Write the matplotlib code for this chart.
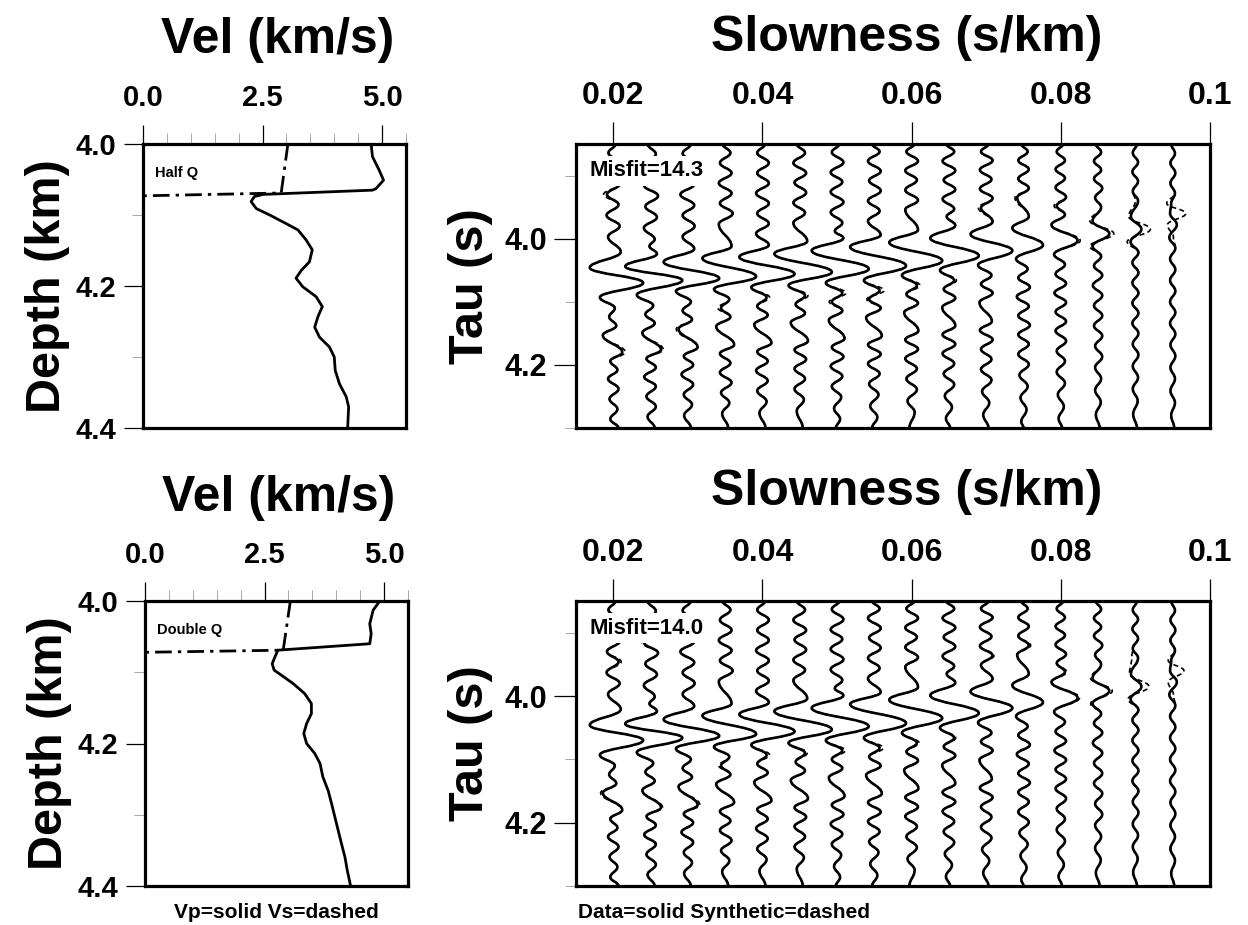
import matplotlib
matplotlib.use("Agg")
import matplotlib.pyplot as plt
from matplotlib.ticker import FixedLocator
from matplotlib.path import Path
from matplotlib.patches import PathPatch

plt.rcParams['font.family'] = ['Liberation Sans', 'DejaVu Sans']
plt.rcParams['font.weight'] = 'bold'

# ---- velocity models: depth (km) and velocity (km/s) ----
vp_half_depth = [4.000, 4.018, 4.037, 4.051, 4.063, 4.065, 4.071, 4.074, 4.081, 4.091, 4.100,
                 4.112, 4.121, 4.135, 4.149, 4.166, 4.178, 4.189, 4.201, 4.215, 4.229, 4.243,
                 4.258, 4.272, 4.286, 4.300, 4.319, 4.338, 4.356, 4.370, 4.400]
vp_half_vel = [4.77, 4.80, 4.94, 5.03, 4.87, 4.80, 2.51, 2.33, 2.26, 2.37, 2.65,
               2.99, 3.24, 3.41, 3.54, 3.48, 3.31, 3.20, 3.34, 3.62, 3.75, 3.66,
               3.59, 3.69, 3.90, 4.00, 4.02, 4.11, 4.25, 4.30, 4.28]
vs_half_depth = [4.000, 4.069, 4.073, 4.400]
vs_half_vel = [3.03, 2.89, 0.0, 0.0]

vp_double_depth = [4.000, 4.013, 4.032, 4.046, 4.060, 4.069, 4.078, 4.088, 4.097, 4.104,
                   4.116, 4.130, 4.144, 4.158, 4.172, 4.186, 4.200, 4.214, 4.228, 4.247,
                   4.266, 4.284, 4.303, 4.322, 4.341, 4.359, 4.378, 4.400]
vp_double_vel = [4.91, 4.77, 4.70, 4.73, 4.70, 2.78, 2.72, 2.66, 2.70, 2.85,
                 3.10, 3.34, 3.48, 3.48, 3.38, 3.32, 3.38, 3.55, 3.66, 3.72,
                 3.83, 3.90, 3.97, 4.04, 4.11, 4.18, 4.23, 4.30]
vs_double_depth = [4.000, 4.069, 4.072, 4.400]
vs_double_vel = [3.04, 2.89, 0.0, 0.0]

# ---- tau-p traces: slowness (s/km); wiggle turning points (tau s, amplitude in trace spacings) ----
slowness = [0.020, 0.025, 0.030, 0.035, 0.040, 0.045, 0.050, 0.055,
            0.060, 0.065, 0.070, 0.075, 0.080, 0.085, 0.090, 0.095]
trace_gap = 0.005

data_traces = [
    [(3.850, 0.06), (3.864, -0.13), (3.880, 0.15), (3.897, -0.14), (3.913, 0.18), (3.930, -0.17),
     (3.946, 0.14), (3.963, -0.18), (3.980, 0.17), (3.997, -0.14), (4.021, 0.20), (4.046, -0.63),
     (4.070, 0.80), (4.093, -0.36), (4.110, 0.04), (4.124, -0.11), (4.138, 0.08), (4.153, -0.28),
     (4.180, 0.24), (4.194, -0.08), (4.208, 0.11), (4.222, -0.14), (4.238, 0.14), (4.254, -0.10),
     (4.270, 0.11), (4.286, -0.08), (4.300, 0.14)],
    [(3.850, -0.08), (3.866, 0.14), (3.882, -0.11), (3.899, 0.17), (3.916, -0.17), (3.932, 0.20),
     (3.949, -0.14), (3.966, 0.17), (3.983, -0.18), (4.001, 0.11), (4.012, -0.03), (4.024, 0.17),
     (4.044, -0.68), (4.066, 0.85), (4.089, -0.37), (4.106, 0.07), (4.120, -0.14), (4.134, 0.11),
     (4.149, -0.22), (4.176, 0.28), (4.190, -0.11), (4.204, 0.14), (4.219, -0.17), (4.234, 0.14),
     (4.250, -0.11), (4.266, 0.14), (4.282, -0.08), (4.300, 0.11)],
    [(3.850, 0.08), (3.865, -0.14), (3.881, 0.17), (3.898, -0.14), (3.914, 0.17), (3.930, -0.20),
     (3.947, 0.17), (3.963, -0.14), (3.980, 0.18), (3.997, -0.14), (4.016, 0.17), (4.037, -0.65),
     (4.063, 0.84), (4.083, -0.32), (4.100, 0.08), (4.114, -0.14), (4.128, 0.11), (4.143, -0.25),
     (4.172, 0.26), (4.186, -0.11), (4.200, 0.14), (4.215, -0.17), (4.231, 0.14), (4.247, -0.11),
     (4.263, 0.11), (4.280, -0.10), (4.300, 0.08)],
    [(3.850, -0.07), (3.864, 0.14), (3.880, -0.14), (3.896, 0.17), (3.912, -0.17), (3.928, 0.17),
     (3.944, -0.14), (3.960, 0.20), (3.977, -0.17), (4.012, 0.17), (4.031, -0.61), (4.060, 0.83),
     (4.080, -0.30), (4.096, 0.11), (4.110, -0.11), (4.124, 0.14), (4.139, -0.24), (4.168, 0.24),
     (4.182, -0.14), (4.197, 0.14), (4.212, -0.14), (4.228, 0.17), (4.244, -0.11), (4.260, 0.11),
     (4.277, -0.08), (4.300, 0.08)],
    [(3.850, 0.07), (3.864, -0.14), (3.880, 0.17), (3.896, -0.14), (3.912, 0.17), (3.928, -0.17),
     (3.944, 0.17), (3.960, -0.14), (3.976, 0.17), (3.992, -0.17), (4.010, 0.17), (4.029, -0.62),
     (4.056, 0.86), (4.077, -0.30), (4.093, 0.11), (4.107, -0.14), (4.121, 0.14), (4.136, -0.22),
     (4.165, 0.24), (4.179, -0.14), (4.194, 0.14), (4.209, -0.17), (4.225, 0.14), (4.241, -0.14),
     (4.258, 0.11), (4.276, -0.08), (4.300, 0.08)],
    [(3.850, -0.08), (3.864, 0.14), (3.880, -0.17), (3.896, 0.17), (3.911, -0.14), (3.927, 0.17),
     (3.943, -0.17), (3.959, 0.14), (3.975, -0.17), (4.004, 0.20), (4.024, -0.68), (4.053, 0.86),
     (4.074, -0.30), (4.090, 0.14), (4.104, -0.11), (4.118, 0.14), (4.133, -0.24), (4.162, 0.22),
     (4.176, -0.14), (4.191, 0.17), (4.206, -0.14), (4.222, 0.14), (4.238, -0.14), (4.255, 0.11),
     (4.273, -0.08), (4.300, 0.08)],
    [(3.850, 0.06), (3.863, -0.14), (3.879, 0.17), (3.895, -0.17), (3.910, 0.14), (3.926, -0.17),
     (3.942, 0.17), (3.958, -0.17), (3.975, 0.14), (3.988, -0.06), (3.999, 0.17), (4.019, -0.68),
     (4.048, 0.85), (4.070, -0.30), (4.086, 0.14), (4.100, -0.14), (4.114, 0.14), (4.129, -0.22),
     (4.158, 0.20), (4.172, -0.14), (4.187, 0.17), (4.202, -0.17), (4.218, 0.14), (4.234, -0.14),
     (4.251, 0.11), (4.269, -0.08), (4.286, 0.08), (4.300, -0.03)],
    [(3.850, -0.06), (3.862, 0.14), (3.877, -0.17), (3.893, 0.17), (3.908, -0.14), (3.924, 0.17),
     (3.940, -0.17), (3.956, 0.14), (3.972, -0.17), (3.994, 0.17), (4.013, -0.65), (4.043, 0.85),
     (4.066, -0.28), (4.082, 0.14), (4.096, -0.14), (4.110, 0.17), (4.125, -0.22), (4.154, 0.20),
     (4.168, -0.17), (4.183, 0.17), (4.198, -0.17), (4.214, 0.14), (4.230, -0.14), (4.247, 0.11),
     (4.265, -0.11), (4.283, 0.08), (4.300, -0.06)],
    [(3.850, 0.07), (3.862, -0.14), (3.877, 0.17), (3.892, -0.17), (3.907, 0.14), (3.923, -0.17),
     (3.939, 0.17), (3.954, -0.17), (3.986, 0.17), (4.006, -0.60), (4.035, 0.82), (4.058, -0.26),
     (4.074, 0.14), (4.088, -0.14), (4.102, 0.17), (4.117, -0.20), (4.146, 0.18), (4.160, -0.17),
     (4.175, 0.17), (4.190, -0.17), (4.206, 0.14), (4.222, -0.14), (4.239, 0.14), (4.257, -0.11),
     (4.275, 0.08), (4.300, -0.06)],
    [(3.850, -0.07), (3.862, 0.14), (3.877, -0.17), (3.892, 0.17), (3.907, -0.14), (3.922, 0.17),
     (3.937, -0.17), (3.953, 0.14), (3.965, -0.06), (3.979, 0.17), (3.999, -0.50), (4.027, 0.80),
     (4.050, -0.24), (4.066, 0.14), (4.080, -0.14), (4.094, 0.17), (4.109, -0.18), (4.138, 0.17),
     (4.152, -0.17), (4.167, 0.17), (4.182, -0.17), (4.198, 0.14), (4.214, -0.14), (4.231, 0.14),
     (4.249, -0.11), (4.267, 0.08), (4.285, -0.08), (4.300, 0.03)],
    [(3.850, 0.06), (3.862, -0.14), (3.876, 0.17), (3.891, -0.17), (3.906, 0.14), (3.921, -0.17),
     (3.936, 0.17), (3.951, -0.14), (3.973, 0.17), (3.993, -0.42), (4.019, 0.70), (4.042, -0.22),
     (4.058, 0.14), (4.072, -0.14), (4.086, 0.17), (4.101, -0.18), (4.131, 0.15), (4.145, -0.17),
     (4.160, 0.17), (4.175, -0.14), (4.191, 0.14), (4.207, -0.14), (4.224, 0.14), (4.242, -0.11),
     (4.260, 0.08), (4.279, -0.08), (4.300, 0.06)],
    [(3.850, -0.06), (3.862, 0.11), (3.876, -0.14), (3.890, 0.14), (3.905, -0.14), (3.920, 0.14),
     (3.935, -0.17), (3.965, 0.14), (3.983, -0.30), (4.010, 0.52), (4.032, -0.20), (4.048, 0.11),
     (4.062, -0.14), (4.077, 0.17), (4.092, -0.18), (4.107, 0.14), (4.122, -0.14), (4.137, 0.17),
     (4.152, -0.14), (4.167, 0.14), (4.183, -0.14), (4.199, 0.14), (4.216, -0.11), (4.234, 0.11),
     (4.252, -0.08), (4.271, 0.08), (4.290, -0.06), (4.300, 0.00)],
    [(3.850, 0.06), (3.862, -0.11), (3.876, 0.11), (3.890, -0.14), (3.904, 0.11), (3.919, -0.14),
     (3.934, 0.14), (3.948, -0.11), (3.962, 0.11), (3.978, -0.25), (4.003, 0.45), (4.025, -0.18),
     (4.041, 0.11), (4.056, -0.14), (4.071, 0.14), (4.086, -0.17), (4.101, 0.14), (4.116, -0.14),
     (4.131, 0.14), (4.146, -0.14), (4.162, 0.14), (4.178, -0.11), (4.194, 0.11), (4.211, -0.11),
     (4.229, 0.11), (4.247, -0.08), (4.266, 0.08), (4.285, -0.06), (4.300, 0.03)],
    [(3.850, -0.06), (3.863, 0.08), (3.877, -0.11), (3.891, 0.08), (3.905, -0.11), (3.920, 0.11),
     (3.935, -0.08), (3.950, 0.08), (3.972, -0.15), (3.992, 0.30), (4.012, -0.15), (4.028, 0.08),
     (4.043, -0.11), (4.058, 0.11), (4.074, -0.14), (4.090, 0.11), (4.106, -0.11), (4.122, 0.11),
     (4.138, -0.11), (4.154, 0.11), (4.170, -0.08), (4.187, 0.11), (4.204, -0.08), (4.222, 0.08),
     (4.240, -0.08), (4.259, 0.07), (4.279, -0.06), (4.300, 0.04)],
    [(3.850, 0.04), (3.864, -0.07), (3.879, 0.07), (3.894, -0.08), (3.909, 0.07), (3.925, -0.07),
     (3.940, 0.07), (3.965, -0.12), (3.985, 0.16), (4.005, -0.13), (4.022, 0.08), (4.038, -0.08),
     (4.054, 0.08), (4.070, -0.08), (4.086, 0.08), (4.102, -0.08), (4.118, 0.08), (4.134, -0.08),
     (4.150, 0.08), (4.167, -0.07), (4.184, 0.08), (4.202, -0.07), (4.220, 0.07), (4.238, -0.07),
     (4.257, 0.06), (4.278, -0.06), (4.300, 0.04)],
    [(3.850, -0.04), (3.865, 0.06), (3.880, -0.06), (3.896, 0.07), (3.912, -0.06), (3.928, 0.06),
     (3.944, -0.04), (3.960, -0.07), (3.978, 0.11), (3.998, -0.09), (4.015, 0.07), (4.032, -0.07),
     (4.049, 0.07), (4.066, -0.07), (4.083, 0.07), (4.100, -0.07), (4.117, 0.07), (4.134, -0.07),
     (4.151, 0.07), (4.168, -0.06), (4.186, 0.07), (4.204, -0.06), (4.222, 0.06), (4.241, -0.06),
     (4.260, 0.06), (4.280, -0.04), (4.300, 0.04)],
]

# synthetics follow the data except at these turning points: (trace, tau, amplitude)
synth_half_edits = [
    (0, 3.930, -0.26), (0, 4.180, 0.32), (1, 3.899, 0.24), (1, 4.176, 0.34),
    (2, 4.143, -0.31), (3, 4.110, -0.19), (4, 4.093, 0.19), (5, 4.090, 0.22),
    (6, 4.086, 0.24), (6, 4.100, -0.21), (7, 4.082, 0.26), (7, 4.096, -0.20),
    (8, 4.074, 0.22), (9, 4.066, 0.20), (10, 3.951, -0.21), (11, 3.935, -0.23),
    (12, 4.003, 0.52), (12, 3.948, -0.18),
    (13, 3.972, -0.22), (13, 3.992, 0.42), (13, 4.012, -0.22),
    (14, 3.940, 0.00), (14, 3.965, -0.18), (14, 3.985, 0.40), (14, 4.005, -0.22),
    (15, 3.944, -0.16), (15, 3.960, 0.35), (15, 3.978, -0.14), (15, 3.998, 0.02),
]
synth_double_edits = [
    (0, 3.946, 0.21), (0, 4.153, -0.34), (1, 3.916, -0.23), (1, 4.176, 0.32),
    (2, 4.172, 0.32), (3, 4.110, -0.17), (4, 4.093, 0.19), (5, 4.090, 0.20),
    (6, 4.086, 0.22), (7, 4.082, 0.24), (8, 4.074, 0.20), (9, 4.066, 0.18),
    (10, 3.936, 0.21), (11, 3.920, 0.19),
    (12, 4.003, 0.50), (12, 3.962, 0.16),
    (13, 3.972, -0.20), (13, 3.992, 0.38), (13, 4.012, -0.20),
    (14, 3.940, -0.10), (14, 3.965, -0.16), (14, 3.985, 0.36), (14, 4.005, -0.20),
    (15, 3.944, -0.12), (15, 3.960, 0.30), (15, 3.978, -0.12), (15, 3.998, 0.02),
]


def apply_edits(traces, edits):
    out = [list(tr) for tr in traces]
    for k, tau, amp in edits:
        for i, (t, a) in enumerate(out[k]):
            if abs(t - tau) < 1e-6:
                out[k][i] = (t, amp)
    return out


synth_half = apply_edits(data_traces, synth_half_edits)
synth_double = apply_edits(data_traces, synth_double_edits)


def wiggle(p, pts):
    # smooth wiggle through the turning points (vertical tangent at each extremum)
    verts = [(p + pts[0][1] * trace_gap, pts[0][0])]
    codes = [Path.MOVETO]
    for (t0, a0), (t1, a1) in zip(pts[:-1], pts[1:]):
        h = 0.42 * (t1 - t0)
        x0 = p + a0 * trace_gap
        x1 = p + a1 * trace_gap
        verts += [(x0, t0 + h), (x1, t1 - h), (x1, t1)]
        codes += [Path.CURVE4] * 3
    return Path(verts, codes)


W, H = 1248, 925
fig = plt.figure(figsize=(W / 100, H / 100), dpi=100)


def box(px_left, px_top, px_w, px_h):
    return [px_left / W, 1 - (px_top + px_h) / H, px_w / W, px_h / H]


def style_axes(ax, major_len, label_size, pad_x, pad_y):
    for s in ax.spines.values():
        s.set_linewidth(2.3)
    ax.xaxis.tick_top()
    ax.tick_params(axis='both', which='major', direction='out', length=major_len,
                   width=0.9, color='black')
    ax.tick_params(axis='x', which='major', pad=pad_x, labelsize=label_size)
    ax.tick_params(axis='y', which='major', pad=pad_y, labelsize=label_size)
    ax.tick_params(axis='both', which='minor', direction='out', length=8, width=0.6,
                   color='0.6')
    ax.tick_params(bottom=False, right=False, which='both')


def vel_panel(ax, vp_d, vp_v, vs_d, vs_v, label):
    ax.plot(vp_v, vp_d, color='black', lw=2.0, solid_joinstyle='round', zorder=3)
    ax.plot(vs_v, vs_d, color='black', lw=2.0, linestyle=(0, (6, 2.2, 1.2, 2.2)), zorder=3)
    ax.set_xlim(0, 5.5)
    ax.set_ylim(4.4, 4.0)
    ax.xaxis.set_major_locator(FixedLocator([0.0, 2.5, 5.0]))
    ax.set_xticklabels(['0.0', '2.5', '5.0'])
    ax.xaxis.set_minor_locator(FixedLocator([0.5, 1.0, 1.5, 2.0, 3.0, 3.5, 4.0, 4.5, 5.5]))
    ax.yaxis.set_major_locator(FixedLocator([4.0, 4.2, 4.4]))
    ax.set_yticklabels(['4.0', '4.2', '4.4'])
    ax.yaxis.set_minor_locator(FixedLocator([4.1, 4.3]))
    style_axes(ax, 14, 21, 9, 5)
    ax.text(0.25, 4.041, label, fontsize=10.5, fontweight='bold', va='center', ha='left')
    ax.set_ylabel('Depth (km)', fontsize=35, fontweight='bold', labelpad=4)


def trace_panel(ax, data, synth, misfit):
    for k, p in enumerate(slowness):
        ax.add_patch(PathPatch(wiggle(p, synth[k]), fill=False, ec='black', lw=1.2,
                               linestyle=(0, (3, 2)), zorder=2))
        ax.add_patch(PathPatch(wiggle(p, data[k]), fill=False, ec='black', lw=1.9,
                               joinstyle='round', zorder=3))
    ax.set_xlim(0.015, 0.1)
    ax.set_ylim(4.30, 3.85)
    ax.xaxis.set_major_locator(FixedLocator([0.02, 0.04, 0.06, 0.08, 0.1]))
    ax.set_xticklabels(['0.02', '0.04', '0.06', '0.08', '0.1'])
    ax.yaxis.set_major_locator(FixedLocator([4.0, 4.2]))
    ax.set_yticklabels(['4.0', '4.2'])
    ax.yaxis.set_minor_locator(FixedLocator([3.9, 4.1, 4.3]))
    style_axes(ax, 16, 23, 8, 5)
    ax.tick_params(axis='y', which='major', labelsize=22)
    ax.text(0.022, 0.905, misfit, transform=ax.transAxes, fontsize=16, fontweight='bold',
            va='center', ha='left', zorder=5,
            bbox=dict(facecolor='white', edgecolor='none', pad=3))
    ax.set_ylabel('Tau (s)', fontsize=35, fontweight='bold', labelpad=8)


ax_tl = fig.add_axes(box(143, 144, 263, 284))
ax_tr = fig.add_axes(box(576, 144, 634, 284))
ax_bl = fig.add_axes(box(145, 601, 263, 285))
ax_br = fig.add_axes(box(576, 601, 634, 285))

vel_panel(ax_tl, vp_half_depth, vp_half_vel, vs_half_depth, vs_half_vel, 'Half Q')
vel_panel(ax_bl, vp_double_depth, vp_double_vel, vs_double_depth, vs_double_vel, 'Double Q')
trace_panel(ax_tr, data_traces, synth_half, 'Misfit=14.3')
trace_panel(ax_br, data_traces, synth_double, 'Misfit=14.0')

# panel titles
fig.text(278 / W, 1 - 40 / H, 'Vel (km/s)', fontsize=36, fontweight='bold', ha='center', va='center')
fig.text(907 / W, 1 - 38 / H, 'Slowness (s/km)', fontsize=36, fontweight='bold', ha='center', va='center')
fig.text(279 / W, 1 - 498 / H, 'Vel (km/s)', fontsize=36, fontweight='bold', ha='center', va='center')
fig.text(907 / W, 1 - 492 / H, 'Slowness (s/km)', fontsize=36, fontweight='bold', ha='center', va='center')

# captions
fig.text(276 / W, 1 - 912 / H, 'Vp=solid Vs=dashed', fontsize=15, fontweight='bold', ha='center', va='center')
fig.text(578 / W, 1 - 912 / H, 'Data=solid Synthetic=dashed', fontsize=15, fontweight='bold', ha='left', va='center')

fig.savefig('out.png', dpi=100, facecolor='white')
